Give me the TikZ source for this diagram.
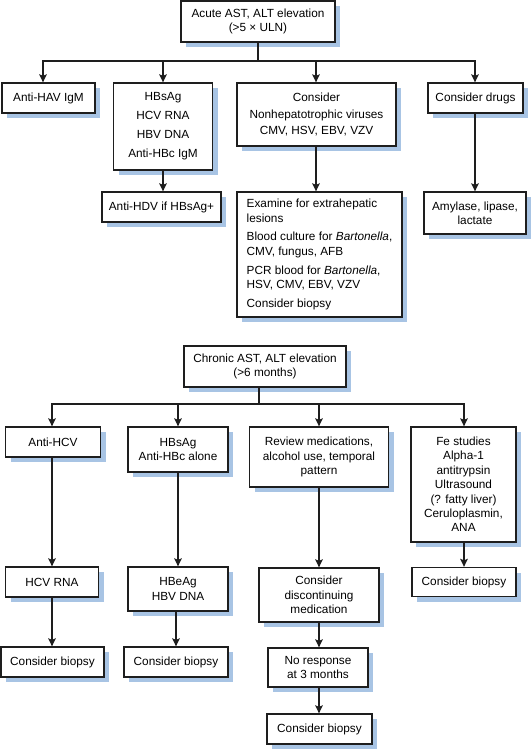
\documentclass[tikz,border=0pt]{standalone}
\usepackage{fontspec}
\setmainfont{Liberation Sans}
\usetikzlibrary{shadows,arrows.meta}
\definecolor{shade}{RGB}{168,196,228}
\definecolor{ink}{RGB}{30,30,30}
\begin{document}
\begin{tikzpicture}[x=1pt,y=-1pt,
  box/.style={draw=ink,line width=1.3pt,fill=white,inner sep=2pt,align=center,
    drop shadow={shadow xshift=5pt,shadow yshift=-5pt,fill=shade,opacity=1,draw=none},
    font=\fontsize{11.8}{14.4}\selectfont},
  wh/.style 2 args={minimum width=#1pt,minimum height=#2pt},
  arr/.style={draw=ink,line width=1.5pt,-{Stealth[length=8pt,width=7.5pt,inset=1.5pt]}},
  ln/.style={draw=ink,line width=1.5pt,line cap=rect}]
\useasboundingbox (0,0) rectangle (530,749);

% ---------- acute ----------
\node[box,wh={154}{41}] (root) at (258,21.5) {Acute AST, ALT elevation\\(>5 × ULN)};
\node[box,wh={93}{30}] (hav) at (48.5,98) {Anti-HAV IgM};
\node[box,wh={99}{87},font=\fontsize{11.8}{19}\selectfont] (hbs) at (163,126.5) {HBsAg\\HCV RNA\\HBV DNA\\Anti-HBc IgM};
\node[box,wh={159}{63},font=\fontsize{11.8}{16.3}\selectfont] (cons) at (316.5,114.5) {Consider\\Nonhepatotrophic viruses\\CMV, HSV, EBV, VZV};
\node[box,wh={95}{30}] (drugs) at (475.5,98) {Consider drugs};
\node[box,wh={119}{30}] (hdv) at (161.5,207) {Anti-HDV if HBsAg+};
\node[box,wh={165}{125},align=left,font=\fontsize{11.8}{14.7}\selectfont] (exam) at (319.5,254.5)
  {Examine for extrahepatic\\lesions\\[4pt]Blood culture for \textit{Bartonella},\\CMV, fungus, AFB\\[4pt]PCR blood for \textit{Bartonella},\\HSV, CMV, EBV, VZV\\[4pt]Consider biopsy};
\node[box,wh={102}{42}] (amyl) at (475,213) {Amylase, lipase,\\lactate};

\coordinate (tL) at (43,61);
\coordinate (tR) at (475,61);
\coordinate (tC) at (316,61);
\coordinate (tB) at (163,61);
\draw[ln] (root.south) -- (root.south |- tL);
\draw[ln] (tL) -- (tR);
\draw[arr] (tL) -- (tL |- hav.north);
\draw[arr] (tB) -- (tB |- hbs.north);
\draw[arr] (tC) -- (tC |- cons.north);
\draw[arr] (tR) -- (tR |- drugs.north);
\draw[arr] (hbs.south -| tB) -- (tB |- hdv.north);
\draw[arr] (cons.south -| tC) -- (tC |- exam.north);
\draw[arr] (drugs.south -| tR) -- (tR |- amyl.north);

% ---------- chronic ----------
\node[box,wh={162}{41}] (croot) at (265,366.5) {Chronic AST, ALT elevation\\(>6 months)};
\node[box,wh={95}{30}] (ahcv) at (53,442) {Anti-HCV};
\node[box,wh={100}{45}] (hbs2) at (178,449.5) {HBsAg\\Anti-HBc alone};
\node[box,wh={139}{60}] (rev) at (319,457) {Review medications,\\alcohol use, temporal\\pattern};
\node[box,wh={105}{115}] (fe) at (463.5,484.5) {Fe studies\\Alpha-1\\antitrypsin\\Ultrasound\\(? fatty liver)\\Ceruloplasmin,\\ANA};
\node[box,wh={104}{29}] (febx) at (464,582) {Consider biopsy};
\node[box,wh={93}{30}] (hcvrna) at (52,582) {HCV RNA};
\node[box,wh={103}{30}] (bx1) at (52.5,662) {Consider biopsy};
\node[box,wh={100}{44}] (hbe) at (178,589) {HBeAg\\HBV DNA};
\node[box,wh={104}{30}] (bx2) at (176,662) {Consider biopsy};
\node[box,wh={120}{54}] (disc) at (319,595) {Consider\\discontinuing\\medication};
\node[box,wh={100}{39}] (nore) at (318,667.5) {No response\\at 3 months};
\node[box,wh={105}{30}] (bx3) at (319.5,729) {Consider biopsy};

\coordinate (bL) at (52,404);
\coordinate (bR) at (464,404);
\coordinate (bs) at (259,404);
\coordinate (cx) at (319,404);
\draw[ln] (bs) -- (bs |- croot.south);
\draw[ln] (bL) -- (bR);
\draw[arr] (bL) -- (bL |- ahcv.north);
\draw[arr] (hbs2.north |- bL) -- (hbs2.north);
\draw[arr] (cx) -- (cx |- rev.north);
\draw[arr] (bR) -- (bR |- fe.north);
\draw[arr] (ahcv.south -| bL) -- (bL |- hcvrna.north);
\draw[arr] (hcvrna.south -| bL) -- (bL |- bx1.north);
\draw[arr] (hbs2.south) -- (hbs2.south |- hbe.north);
\draw[arr] (hbe.south -| bx2) -- (bx2.north);
\draw[arr] (rev.south -| cx) -- (cx |- disc.north);
\draw[arr] (disc.south -| cx) -- (cx |- nore.north);
\draw[arr] (nore.south -| cx) -- (cx |- bx3.north);
\draw[arr] (fe.south -| bR) -- (bR |- febx.north);
\end{tikzpicture}
\end{document}
